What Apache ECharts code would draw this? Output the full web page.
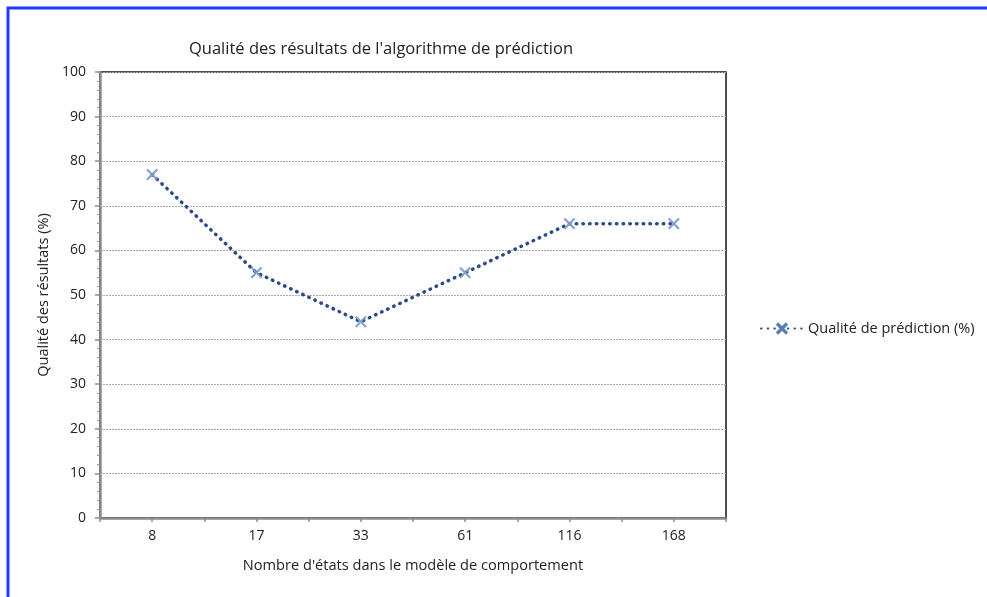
<!DOCTYPE html>
<html>
<head>
<meta charset="utf-8">
<script src="https://cdn.jsdelivr.net/npm/echarts@6/dist/echarts.min.js"></script>
<style>
  html, body { margin: 0; padding: 0; background: #fff; }
  #main { width: 987px; height: 597px; }
</style>
</head>
<body>
<div id="main"></div>
<script>
// données
const categories = ['8', '17', '33', '61', '116', '168']
const qualite = [77, 55, 44, 55, 66, 66]
const yTicks = [0, 10, 20, 30, 40, 50, 60, 70, 80, 90, 100]

// demi-catégories, seulement pour les graduations de l'axe x
const halfTicks = categories.flatMap(c => [c + 'a', c + 'b'])

const font = '"Open Sans", Lato, sans-serif'
const cross = 'path://M0,1L1,0L5,4L9,0L10,1L6,5L10,9L9,10L5,6L1,10L0,9L4,5Z'

const chart = echarts.init(document.getElementById('main'))
chart.setOption({
  backgroundColor: '#fff',
  animation: false,
  textStyle: { fontFamily: font },
  title: {
    text: "Qualité des résultats de l'algorithme de prédiction",
    left: 184,
    top: 36,
    textStyle: { fontSize: 16.5, fontWeight: 'normal', color: '#222', fontFamily: font }
  },
  legend: {
    left: 755,
    top: 316,
    itemWidth: 42,
    itemHeight: 12,
    itemGap: 8,
    textStyle: { fontSize: 14.5, color: '#222', fontFamily: font },
    data: ['Qualité de prédiction (%)']
  },
  grid: {
    left: 100,
    right: 261,
    top: 72,
    bottom: 79,
    show: true,
    borderColor: '#111',
    borderWidth: 1.5
  },
  xAxis: [
    {
      type: 'category',
      data: categories,
      boundaryGap: true,
      name: "Nombre d'états dans le modèle de comportement",
      nameLocation: 'middle',
      nameGap: 40,
      nameTextStyle: { fontSize: 14.6, color: '#222' },
      axisLine: { lineStyle: { color: '#8c8c8c', width: 2.5 } },
      axisTick: { show: false },
      axisLabel: { fontSize: 14, color: '#222', margin: 11 },
      splitLine: { show: false }
    },
    {
      type: 'category',
      data: halfTicks,
      position: 'bottom',
      boundaryGap: true,
      axisLine: { show: false },
      axisLabel: { show: false },
      axisTick: { show: true, interval: 0, length: 4, lineStyle: { color: '#8c8c8c', width: 1.5 } },
      splitLine: { show: false }
    }
  ],
  yAxis: {
    type: 'value',
    min: yTicks[0],
    max: yTicks[yTicks.length - 1],
    interval: 10,
    name: 'Qualité des résultats (%)',
    nameLocation: 'middle',
    nameGap: 48,
    nameTextStyle: { fontSize: 14.5, color: '#222' },
    axisLine: { show: true, lineStyle: { color: '#8c8c8c', width: 2.5 } },
    axisTick: { show: true, length: 5, lineStyle: { color: '#8c8c8c', width: 1.5 } },
    minorTick: { show: true, splitNumber: 5, length: 3, lineStyle: { color: '#9a9a9a' } },
    axisLabel: { fontSize: 14, color: '#222', margin: 14 },
    splitLine: { lineStyle: { color: '#a8a8a8', type: [2, 1], width: 1 } }
  },
  series: [
    {
      name: 'Qualité de prédiction (%)',
      type: 'line',
      data: qualite,
      symbol: cross,
      symbolSize: 11,
      itemStyle: { color: '#86a6d4', borderColor: '#5a7db3', borderWidth: 0.5 },
      lineStyle: { color: '#2b4a86', width: 3.5, type: [0.5, 6.2], cap: 'round' },
      z: 3
    }
  ],
  graphic: [
    {
      type: 'polyline',
      shape: { points: [[987, 8], [8, 8], [8, 597]] },
      style: { stroke: '#1c3cff', lineWidth: 3, fill: null },
      silent: true
    }
  ]
})
</script>
</body>
</html>
